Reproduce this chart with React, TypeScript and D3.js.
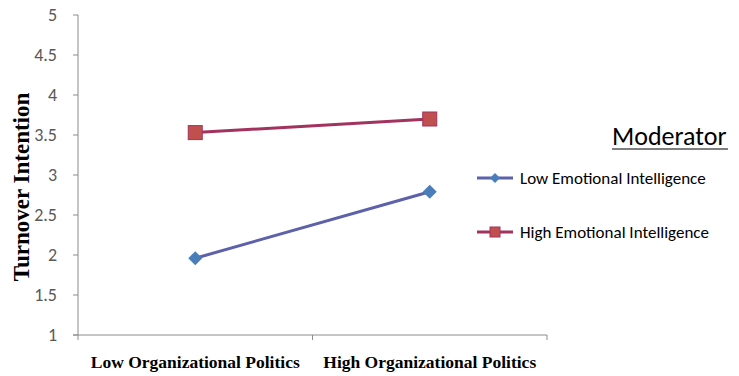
import React from "react";
import * as d3 from "d3";

const categories = ["Low Organizational Politics", "High Organizational Politics"];
const lowEI = [1.96, 2.79];
const highEI = [3.53, 3.70];
const seriesNames = ["Low Emotional Intelligence", "High Emotional Intelligence"];
const yTicks = [1, 1.5, 2, 2.5, 3, 3.5, 4, 4.5, 5];

const W = 739, H = 376;
const left = 78, right = 547, top = 15, bottom = 335;

export default function App() {
  const x = d3.scaleBand<string>().domain(categories).range([left, right]);
  const y = d3.scaleLinear().domain([1, 5]).range([bottom, top]);
  const cx = (c: string) => (x(c) as number) + x.bandwidth() / 2;
  const line = d3.line<[string, number]>().x(d => cx(d[0])).y(d => y(d[1]));
  const lowPts: [string, number][] = categories.map((c, i) => [c, lowEI[i]]);
  const highPts: [string, number][] = categories.map((c, i) => [c, highEI[i]]);
  const axisColor = "#8c8c8c";
  const sans = "Carlito, 'Open Sans', 'Liberation Sans', sans-serif";
  const serif = "'Liberation Serif', 'Times New Roman', serif";
  const diamond = (px: number, py: number, r: number) =>
    `M${px},${py - r}L${px + r},${py}L${px},${py + r}L${px - r},${py}Z`;
  return (
    <svg width={W} height={H} style={{ position: "absolute", left: 0, top: 0, background: "#fff" }}>
      <rect width={W} height={H} fill="#fff" />
      {/* y axis */}
      <line x1={left} x2={left} y1={top} y2={bottom} stroke={axisColor} strokeWidth={1} />
      {yTicks.map(t => (
        <g key={t}>
          <line x1={left - 5} x2={left} y1={y(t)} y2={y(t)} stroke={axisColor} />
          <text x={left - 21} y={y(t)} dy="0.35em" textAnchor="end" fontFamily={sans} fontSize={18} fill="#595959">{t}</text>
        </g>
      ))}
      {/* x axis */}
      <line x1={73} x2={right} y1={bottom} y2={bottom} stroke={axisColor} />
      {[left, left + x.bandwidth(), right].map((v, i) => (
        <line key={i} x1={v} x2={v} y1={bottom} y2={bottom + 5} stroke={axisColor} />
      ))}
      {categories.map(c => (
        <text key={c} x={cx(c)} y={368} textAnchor="middle" fontFamily={serif} fontWeight="bold" fontSize={17.5} fill="#000">{c}</text>
      ))}
      <text transform={`translate(29,${(top + bottom) / 2 + 12}) rotate(-90)`} textAnchor="middle" fontFamily={serif} fontWeight="bold" fontSize={23} fill="#000">Turnover Intention</text>
      {/* series */}
      <path d={line(highPts) as string} fill="none" stroke="#A2325E" strokeWidth={3} />
      <path d={line(lowPts) as string} fill="none" stroke="#5C61A9" strokeWidth={3} />
      {highPts.map((d, i) => (
        <rect key={i} x={cx(d[0]) - 7} y={y(d[1]) - 7} width={14} height={14} fill="#C0504D" stroke="#A2325E" strokeWidth={1} />
      ))}
      {lowPts.map((d, i) => (
        <path key={i} d={diamond(cx(d[0]), y(d[1]), 7)} fill="#4A7EBB" />
      ))}
      {/* legend */}
      <text x={612} y={145} fontFamily={sans} fontSize={26} fill="#000">Moderator</text>
      <line x1={612} x2={728} y1={149} y2={149} stroke="#000" strokeWidth={1.2} />
      <line x1={477} x2={513} y1={178} y2={178} stroke="#5C61A9" strokeWidth={3} />
      <path d={diamond(495, 178, 5)} fill="#4A7EBB" />
      <text x={520} y={178} dy="0.35em" fontFamily={sans} fontSize={17} fill="#000">{seriesNames[0]}</text>
      <line x1={477} x2={513} y1={232} y2={232} stroke="#A2325E" strokeWidth={3} />
      <rect x={490} y={227} width={10} height={10} fill="#C0504D" stroke="#A2325E" />
      <text x={520} y={232} dy="0.35em" fontFamily={sans} fontSize={17} fill="#000">{seriesNames[1]}</text>
    </svg>
  );
}
